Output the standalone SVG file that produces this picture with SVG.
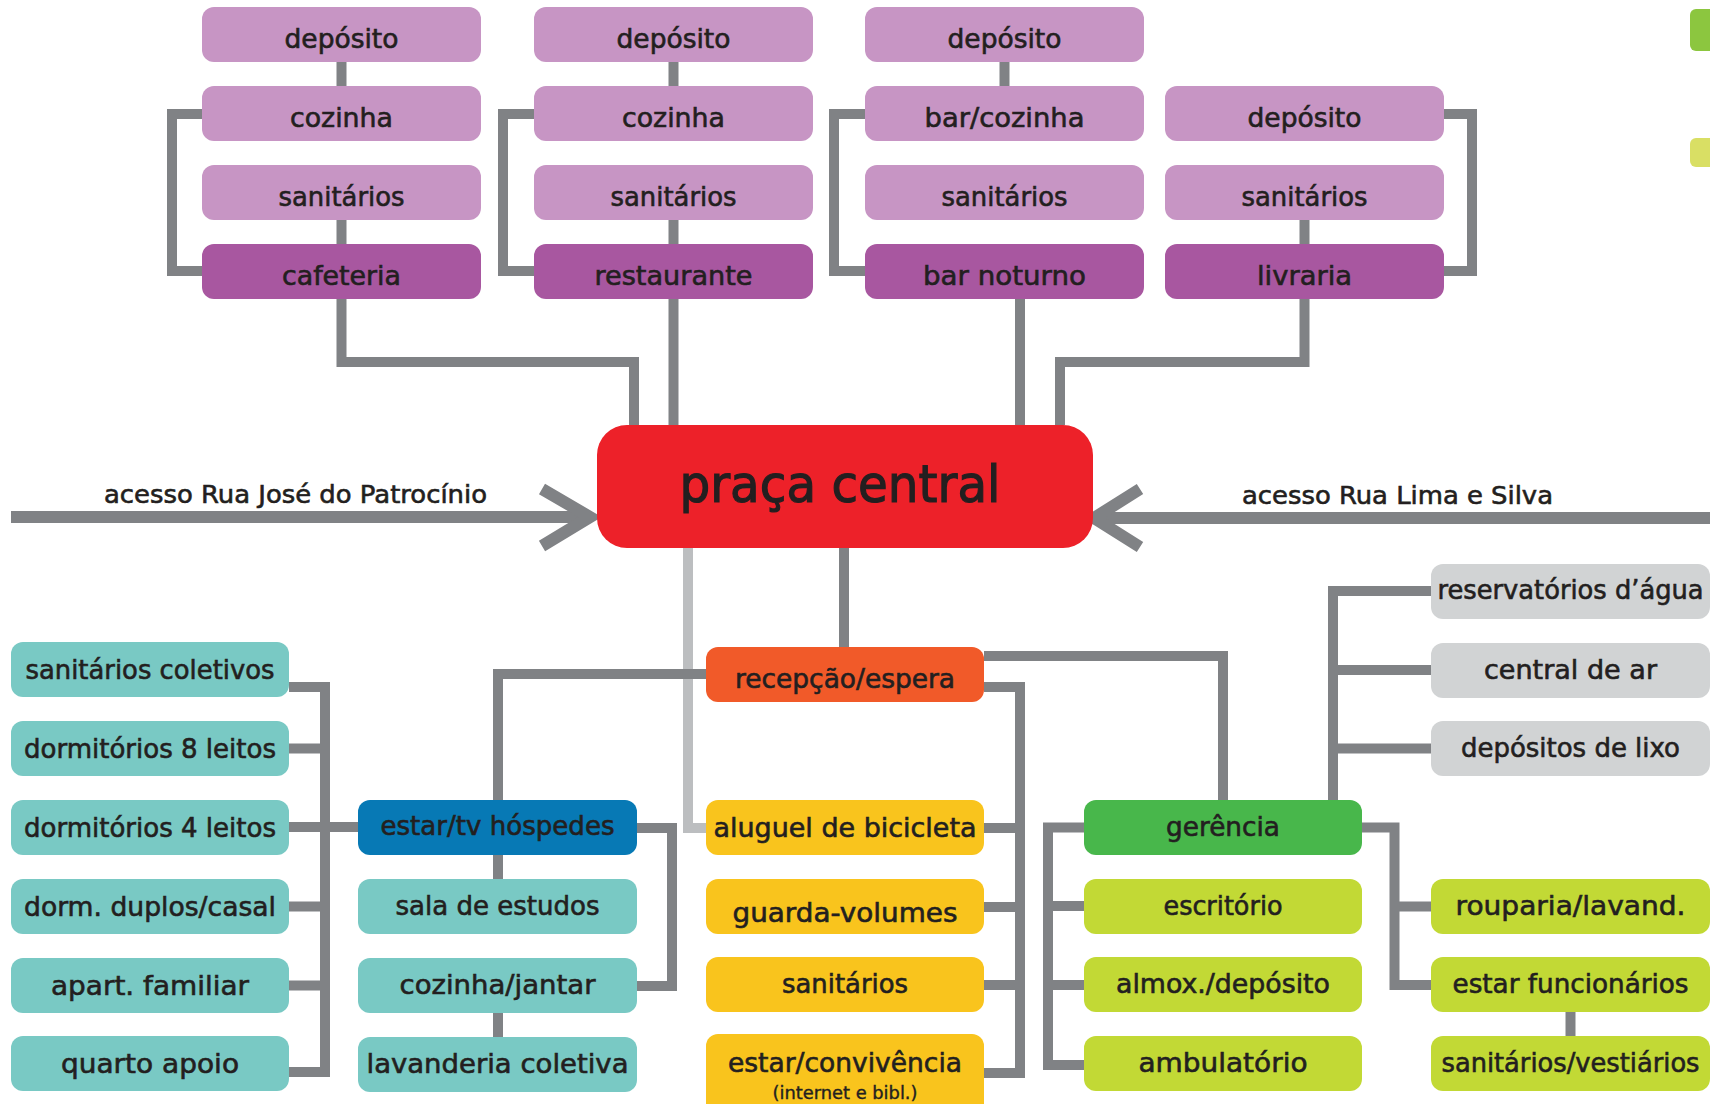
<svg xmlns="http://www.w3.org/2000/svg" width="1710" height="1104" viewBox="0 0 1710 1104">
<style>
.c{fill:none;stroke:#808285;stroke-width:10;stroke-linejoin:miter;stroke-linecap:butt}
.cl{fill:none;stroke:#bcbec0;stroke-width:10}
.ar{fill:none;stroke:#808285;stroke-width:12;stroke-linejoin:miter;stroke-linecap:butt}
.t{font-family:"DejaVu Sans","Liberation Sans",sans-serif;font-size:26px;fill:#231f20;stroke:#231f20;stroke-width:0.6px;text-anchor:middle}
.lp{fill:#c795c4}.dp{fill:#a857a0}.red{fill:#ed2129}.or{fill:#f15a29}.ye{fill:#f9c41d}
.te{fill:#79c9c4}.bl{fill:#0779b5}.gr{fill:#48b74b}.li{fill:#c2d935}.gy{fill:#d1d3d4}
</style>
<rect width="1710" height="1104" fill="#ffffff"/>
<g id="connectors">
<path class="c" d="M341.5,62V86M341.5,220V244M202,114H172V271H202"/>
<path class="c" d="M673.5,62V86M673.5,220V244M534,114H503V271H534"/>
<path class="c" d="M1004.5,62V86M865,114H834V271H865"/>
<path class="c" d="M1304.5,220V244M1444,114H1472V271H1444"/>
<path class="c" d="M341.5,299V362H634V425"/>
<path class="c" d="M673.5,299V425"/>
<path class="c" d="M1020,299V425"/>
<path class="c" d="M1304.5,299V362H1060V425"/>
<path class="ar" d="M11,517H590"/>
<path class="ar" d="M542,489L590,517L542,546"/>
<path class="ar" d="M1710,518H1096"/>
<path class="ar" d="M1140,489L1094,518L1140,547"/>
<path class="cl" d="M688,548V828H706"/>
<path class="c" d="M844,548V647"/>
<path class="c" d="M706,674H498V800"/>
<path class="c" d="M984,656H1223V800"/>
<path class="c" d="M984,687H1020V1073H984M984,828H1020M984,907H1020M984,985H1020"/>
<path class="c" d="M289,687H325V1072H289M289,748.5H325M289,827H358M289,906.5H325M289,985.5H325"/>
<path class="c" d="M637,828H672V986H637M498,855V879M498,1013V1037"/>
<path class="c" d="M1084,827.5H1048V1065H1084M1048,906H1084M1048,985H1084"/>
<path class="c" d="M1333,800V591H1431M1333,670H1431M1333,748.5H1431"/>
<path class="c" d="M1362,827.5H1394.5V985H1431M1394.5,906.5H1431"/>
<path class="c" d="M1570.5,1012V1036"/>
</g>
<g id="legend">
<rect x="1690" y="9" width="30" height="42" rx="6" fill="#8cc63f"/>
<rect x="1690" y="138" width="30" height="29" rx="6" fill="#d9df64"/>
</g>
<g id="cafeteria-col">
<g id="dep1"><rect class="lp" x="202" y="7" width="279" height="55" rx="12"/><text class="t" x="341.5" y="47.5" textLength="114" lengthAdjust="spacingAndGlyphs">depósito</text></g>
<g id="coz1"><rect class="lp" x="202" y="86" width="279" height="55" rx="12"/><text class="t" x="341.5" y="126.5" textLength="103" lengthAdjust="spacingAndGlyphs">cozinha</text></g>
<g id="san1"><rect class="lp" x="202" y="165" width="279" height="55" rx="12"/><text class="t" x="341.5" y="205.5" textLength="126" lengthAdjust="spacingAndGlyphs">sanitários</text></g>
<g id="cafeteria"><rect class="dp" x="202" y="244" width="279" height="55" rx="12"/><text class="t" x="341.5" y="284.5" textLength="119" lengthAdjust="spacingAndGlyphs">cafeteria</text></g>
</g>
<g id="restaurante-col">
<g id="dep2"><rect class="lp" x="534" y="7" width="279" height="55" rx="12"/><text class="t" x="673.5" y="47.5" textLength="114" lengthAdjust="spacingAndGlyphs">depósito</text></g>
<g id="coz2"><rect class="lp" x="534" y="86" width="279" height="55" rx="12"/><text class="t" x="673.5" y="126.5" textLength="103" lengthAdjust="spacingAndGlyphs">cozinha</text></g>
<g id="san2"><rect class="lp" x="534" y="165" width="279" height="55" rx="12"/><text class="t" x="673.5" y="205.5" textLength="126" lengthAdjust="spacingAndGlyphs">sanitários</text></g>
<g id="restaurante"><rect class="dp" x="534" y="244" width="279" height="55" rx="12"/><text class="t" x="673.5" y="284.5" textLength="158" lengthAdjust="spacingAndGlyphs">restaurante</text></g>
</g>
<g id="bar-col">
<g id="dep3"><rect class="lp" x="865" y="7" width="279" height="55" rx="12"/><text class="t" x="1004.5" y="47.5" textLength="114" lengthAdjust="spacingAndGlyphs">depósito</text></g>
<g id="barcoz"><rect class="lp" x="865" y="86" width="279" height="55" rx="12"/><text class="t" x="1004.5" y="126.5" textLength="160" lengthAdjust="spacingAndGlyphs">bar/cozinha</text></g>
<g id="san3"><rect class="lp" x="865" y="165" width="279" height="55" rx="12"/><text class="t" x="1004.5" y="205.5" textLength="126" lengthAdjust="spacingAndGlyphs">sanitários</text></g>
<g id="barnoturno"><rect class="dp" x="865" y="244" width="279" height="55" rx="12"/><text class="t" x="1004.5" y="284.5" textLength="163" lengthAdjust="spacingAndGlyphs">bar noturno</text></g>
</g>
<g id="livraria-col">
<g id="dep4"><rect class="lp" x="1165" y="86" width="279" height="55" rx="12"/><text class="t" x="1304.5" y="126.5" textLength="114" lengthAdjust="spacingAndGlyphs">depósito</text></g>
<g id="san4"><rect class="lp" x="1165" y="165" width="279" height="55" rx="12"/><text class="t" x="1304.5" y="205.5" textLength="126" lengthAdjust="spacingAndGlyphs">sanitários</text></g>
<g id="livraria"><rect class="dp" x="1165" y="244" width="279" height="55" rx="12"/><text class="t" x="1304.5" y="284.5" textLength="95" lengthAdjust="spacingAndGlyphs">livraria</text></g>
</g>
<g id="praca">
<rect class="red" x="597" y="425" width="496" height="123" rx="30"/>
<text class="t" x="840" y="501.5" style="font-size:52px;stroke-width:1.2px" textLength="321" lengthAdjust="spacingAndGlyphs">praça central</text>
</g>
<g id="access-labels">
<text class="t" x="295.5" y="503" style="font-size:25px" textLength="383" lengthAdjust="spacingAndGlyphs">acesso Rua José do Patrocínio</text>
<text class="t" x="1397.5" y="504" style="font-size:25px" textLength="311" lengthAdjust="spacingAndGlyphs">acesso Rua Lima e Silva</text>
</g>
<g id="guests-left">
<g id="sancol"><rect class="te" x="11" y="642" width="278" height="55" rx="12"/><text class="t" x="150" y="678.5" textLength="249" lengthAdjust="spacingAndGlyphs">sanitários coletivos</text></g>
<g id="dorm8"><rect class="te" x="11" y="721" width="278" height="55" rx="12"/><text class="t" x="150" y="757.5" textLength="252" lengthAdjust="spacingAndGlyphs">dormitórios 8 leitos</text></g>
<g id="dorm4"><rect class="te" x="11" y="800" width="278" height="55" rx="12"/><text class="t" x="150" y="836.5" textLength="252" lengthAdjust="spacingAndGlyphs">dormitórios 4 leitos</text></g>
<g id="dormdup"><rect class="te" x="11" y="879" width="278" height="55" rx="12"/><text class="t" x="150" y="915.5" textLength="252" lengthAdjust="spacingAndGlyphs">dorm. duplos/casal</text></g>
<g id="apart"><rect class="te" x="11" y="958" width="278" height="55" rx="12"/><text class="t" x="150" y="994.5" textLength="198" lengthAdjust="spacingAndGlyphs">apart. familiar</text></g>
<g id="quarto"><rect class="te" x="11" y="1036" width="278" height="55" rx="12"/><text class="t" x="150" y="1073" textLength="178" lengthAdjust="spacingAndGlyphs">quarto apoio</text></g>
</g>
<g id="guests-mid">
<g id="estartv"><rect class="bl" x="358" y="800" width="279" height="55" rx="12"/><text class="t" x="497.5" y="835" textLength="234" lengthAdjust="spacingAndGlyphs">estar/tv hóspedes</text></g>
<g id="sala"><rect class="te" x="358" y="879" width="279" height="55" rx="12"/><text class="t" x="497.5" y="915" textLength="204" lengthAdjust="spacingAndGlyphs">sala de estudos</text></g>
<g id="cozjan"><rect class="te" x="358" y="958" width="279" height="55" rx="12"/><text class="t" x="497.5" y="994" textLength="196" lengthAdjust="spacingAndGlyphs">cozinha/jantar</text></g>
<g id="lavcol"><rect class="te" x="358" y="1037" width="279" height="55" rx="12"/><text class="t" x="497.5" y="1073" textLength="262" lengthAdjust="spacingAndGlyphs">lavanderia coletiva</text></g>
</g>
<g id="reception">
<g id="recepcao"><rect class="or" x="706" y="647" width="278" height="55" rx="12"/><text class="t" x="845" y="687.5" textLength="220" lengthAdjust="spacingAndGlyphs">recepção/espera</text></g>
<g id="aluguel"><rect class="ye" x="706" y="800" width="278" height="55" rx="12"/><text class="t" x="845" y="837" textLength="263" lengthAdjust="spacingAndGlyphs">aluguel de bicicleta</text></g>
<g id="guarda"><rect class="ye" x="706" y="879" width="278" height="55" rx="12"/><text class="t" x="845" y="922" textLength="225" lengthAdjust="spacingAndGlyphs">guarda-volumes</text></g>
<g id="san5"><rect class="ye" x="706" y="957" width="278" height="55" rx="12"/><text class="t" x="845" y="993" textLength="126" lengthAdjust="spacingAndGlyphs">sanitários</text></g>
<g id="convivencia"><rect class="ye" x="706" y="1034" width="278" height="90" rx="12"/><text class="t" x="845" y="1071.5" textLength="234" lengthAdjust="spacingAndGlyphs">estar/convivência</text><text class="t" x="845" y="1099" style="font-size:18px;stroke-width:0.4px" textLength="145" lengthAdjust="spacingAndGlyphs">(internet e bibl.)</text></g>
</g>
<g id="management">
<g id="gerencia"><rect class="gr" x="1084" y="800" width="278" height="55" rx="12"/><text class="t" x="1223" y="835.5" textLength="114" lengthAdjust="spacingAndGlyphs">gerência</text></g>
<g id="escritorio"><rect class="li" x="1084" y="879" width="278" height="55" rx="12"/><text class="t" x="1223" y="915" textLength="119" lengthAdjust="spacingAndGlyphs">escritório</text></g>
<g id="almox"><rect class="li" x="1084" y="957" width="278" height="55" rx="12"/><text class="t" x="1223" y="993" textLength="214" lengthAdjust="spacingAndGlyphs">almox./depósito</text></g>
<g id="ambulatorio"><rect class="li" x="1084" y="1036" width="278" height="55" rx="12"/><text class="t" x="1223" y="1072" textLength="169" lengthAdjust="spacingAndGlyphs">ambulatório</text></g>
</g>
<g id="services">
<g id="reserv"><rect class="gy" x="1431" y="564" width="279" height="55" rx="12"/><text class="t" x="1570.5" y="598.5" textLength="266" lengthAdjust="spacingAndGlyphs">reservatórios d’água</text></g>
<g id="centralar"><rect class="gy" x="1431" y="643" width="279" height="55" rx="12"/><text class="t" x="1570.5" y="678.5" textLength="173" lengthAdjust="spacingAndGlyphs">central de ar</text></g>
<g id="lixo"><rect class="gy" x="1431" y="721" width="279" height="55" rx="12"/><text class="t" x="1570.5" y="757" textLength="219" lengthAdjust="spacingAndGlyphs">depósitos de lixo</text></g>
<g id="rouparia"><rect class="li" x="1431" y="879" width="279" height="55" rx="12"/><text class="t" x="1570.5" y="915" textLength="230" lengthAdjust="spacingAndGlyphs">rouparia/lavand.</text></g>
<g id="estarfunc"><rect class="li" x="1431" y="957" width="279" height="55" rx="12"/><text class="t" x="1570.5" y="993" textLength="236" lengthAdjust="spacingAndGlyphs">estar funcionários</text></g>
<g id="sanvest"><rect class="li" x="1431" y="1036" width="279" height="55" rx="12"/><text class="t" x="1570.5" y="1072" textLength="258" lengthAdjust="spacingAndGlyphs">sanitários/vestiários</text></g>
</g>
</svg>
